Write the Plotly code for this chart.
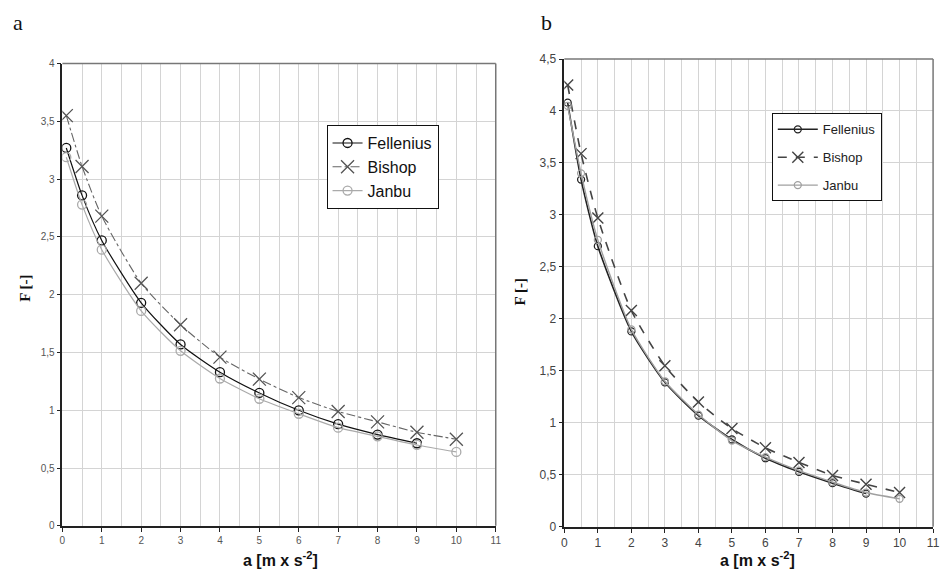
import plotly.graph_objects as go

# Acceleration values a [m x s^-2]
a_vals = [0.1, 0.5, 1, 2, 3, 4, 5, 6, 7, 8, 9, 10]
a_fell = [0.1, 0.5, 1, 2, 3, 4, 5, 6, 7, 8, 9]

# Panel a: factor of safety F
fellenius_a = [3.27, 2.86, 2.47, 1.93, 1.57, 1.33, 1.15, 1.00, 0.88, 0.79, 0.715]
bishop_a = [3.55, 3.11, 2.68, 2.10, 1.74, 1.46, 1.27, 1.11, 0.99, 0.90, 0.81, 0.75]
janbu_a = [3.19, 2.78, 2.39, 1.86, 1.515, 1.275, 1.10, 0.97, 0.85, 0.775, 0.70, 0.64]

# Panel b: factor of safety F
fellenius_b = [4.08, 3.34, 2.70, 1.88, 1.39, 1.07, 0.84, 0.66, 0.53, 0.42, 0.32]
bishop_b = [4.25, 3.59, 2.97, 2.08, 1.55, 1.20, 0.945, 0.76, 0.62, 0.495, 0.41, 0.33]
janbu_b = [4.05, 3.40, 2.76, 1.90, 1.40, 1.08, 0.83, 0.67, 0.54, 0.43, 0.33, 0.27]

x_ticks = list(range(0, 12))

W, H = 948, 580


def px_x(p):
    return p / W


def px_y(p):
    return 1 - p / H


fig = go.Figure()

# ---- panel a ----
fig.add_trace(go.Scatter(
    x=a_fell, y=fellenius_a, name="Fellenius", mode="lines+markers",
    line=dict(color="#111111", width=1.2, shape="spline", smoothing=0.6),
    marker=dict(symbol="circle-open", size=9, color="#111111", line=dict(width=1.3)),
    xaxis="x", yaxis="y", legend="legend"))
fig.add_trace(go.Scatter(
    x=a_vals, y=bishop_a, name="Bishop", mode="lines+markers",
    line=dict(color="#666666", width=1.1, dash="dashdot", shape="spline", smoothing=0.6),
    marker=dict(symbol="x-thin-open", size=13, color="#555555", line=dict(width=1.3, color="#555555")),
    xaxis="x", yaxis="y", legend="legend"))
fig.add_trace(go.Scatter(
    x=a_vals, y=janbu_a, name="Janbu", mode="lines+markers",
    line=dict(color="#aaaaaa", width=1.2, shape="spline", smoothing=0.6),
    marker=dict(symbol="circle-open", size=9, color="#aaaaaa", line=dict(width=1.3)),
    xaxis="x", yaxis="y", legend="legend"))

# ---- panel b ----
fig.add_trace(go.Scatter(
    x=a_fell, y=fellenius_b, name="Fellenius", mode="lines+markers",
    line=dict(color="#222222", width=1.6, shape="spline", smoothing=0.6),
    marker=dict(symbol="circle-open", size=7, color="#222222", line=dict(width=1.3)),
    xaxis="x2", yaxis="y2", legend="legend2", legendgroup="bf"))
fig.add_trace(go.Scatter(
    x=a_vals, y=bishop_b, name="Bishop", mode="lines+markers",
    line=dict(color="#444444", width=1.6, dash="dash", shape="spline", smoothing=0.6),
    marker=dict(symbol="x-thin-open", size=11, color="#444444", line=dict(width=1.4, color="#444444")),
    xaxis="x2", yaxis="y2", legend="legend2", legendgroup="bb"))
fig.add_trace(go.Scatter(
    x=a_vals, y=janbu_b, name="Janbu", mode="lines+markers",
    line=dict(color="#a0a0a0", width=1.4, shape="spline", smoothing=0.6),
    marker=dict(symbol="circle-open", size=7, color="#a0a0a0", line=dict(width=1.3)),
    xaxis="x2", yaxis="y2", legend="legend2", legendgroup="bj"))

grid = "#d4d4d4"
tickfont_a = dict(family="Liberation Sans, Arial", size=10, color="#555555")
tickfont_b = dict(family="Liberation Sans, Arial", size=12, color="#444444")


def xaxis(domain, anchor, font):
    return dict(domain=domain, anchor=anchor, range=[0, 11], tickvals=x_ticks,
                showgrid=True, gridcolor=grid, gridwidth=1,
                minor=dict(dtick=0.5, showgrid=True, gridcolor=grid, gridwidth=1),
                showline=True, linecolor="#222222", linewidth=1.5,
                ticks="outside", ticklen=4, tickcolor="#222222",
                tickfont=font, zeroline=False)


def yaxis(domain, anchor, top, font):
    return dict(domain=domain, anchor=anchor, range=[0, top], dtick=0.5,
                showgrid=True, gridcolor=grid, gridwidth=1,
                showline=True, linecolor="#222222", linewidth=1.5,
                ticks="outside", ticklen=4, tickcolor="#222222",
                tickfont=font, zeroline=False)


xa_dom = [px_x(60), px_x(498)]
ya_dom = [px_y(531.7), px_y(58)]
xb_dom = [px_x(567.3), px_x(940)]
yb_dom = [px_y(532.7), px_y(53.3)]

# light frame along the top and right edges of each plot area
shapes = []
for xd, yd in [(xa_dom, ya_dom), (xb_dom, yb_dom)]:
    shapes.append(dict(type="line", xref="paper", yref="paper",
                       x0=xd[0], x1=xd[1], y0=yd[1], y1=yd[1],
                       line=dict(color="#777777", width=1.5)))
    shapes.append(dict(type="line", xref="paper", yref="paper",
                       x0=xd[1], x1=xd[1], y0=yd[0], y1=yd[1],
                       line=dict(color="#777777", width=1.5)))

axis_title_font = dict(family="Liberation Sans, Arial", size=16, color="#111111")
f_title_font = dict(family="Liberation Serif, Times New Roman", size=15, color="#111111")
panel_font = dict(family="Liberation Serif, Times New Roman", size=22, color="#111111")

annotations = [
    dict(text="a", x=px_x(15), y=px_y(16), xref="paper", yref="paper",
         showarrow=False, font=panel_font, xanchor="center", yanchor="middle"),
    dict(text="b", x=px_x(549), y=px_y(16), xref="paper", yref="paper",
         showarrow=False, font=panel_font, xanchor="center", yanchor="middle"),
    dict(text="<b>a [m x s<sup>-2</sup>]</b>", x=px_x(280), y=px_y(566), xref="paper", yref="paper",
         showarrow=False, font=axis_title_font, xanchor="center", yanchor="middle"),
    dict(text="<b>a [m x s<sup>-2</sup>]</b>", x=px_x(763), y=px_y(566), xref="paper", yref="paper",
         showarrow=False, font=axis_title_font, xanchor="center", yanchor="middle"),
    dict(text="<b>F [-]</b>", x=px_x(22), y=px_y(288), xref="paper", yref="paper", textangle=-90,
         showarrow=False, font=f_title_font, xanchor="center", yanchor="middle"),
    dict(text="<b>F [-]</b>", x=px_x(522), y=px_y(292), xref="paper", yref="paper", textangle=-90,
         showarrow=False, font=f_title_font, xanchor="center", yanchor="middle"),
]

fig.update_layout(
    width=W, height=H,
    margin=dict(l=0, r=0, t=0, b=0),
    paper_bgcolor="white", plot_bgcolor="white",
    separators=",.",
    xaxis=xaxis(xa_dom, "y", tickfont_a),
    yaxis=yaxis(ya_dom, "x", 4, tickfont_a),
    xaxis2=xaxis(xb_dom, "y2", tickfont_b),
    yaxis2=yaxis(yb_dom, "x2", 4.5, tickfont_b),
    shapes=shapes,
    annotations=annotations,
    legend=dict(x=px_x(327), y=px_y(121), xanchor="left", yanchor="top",
                bgcolor="white", bordercolor="#111111", borderwidth=1,
                font=dict(family="Liberation Sans, Arial", size=16, color="#111111"),
                itemwidth=30, tracegroupgap=0),
    legend2=dict(x=px_x(777), y=px_y(109), xanchor="left", yanchor="top",
                 bgcolor="white", bordercolor="#111111", borderwidth=1,
                 font=dict(family="Liberation Sans, Arial", size=13, color="#222222"),
                 itemwidth=40, tracegroupgap=8),
    showlegend=True,
)

fig.write_html("out.html")
